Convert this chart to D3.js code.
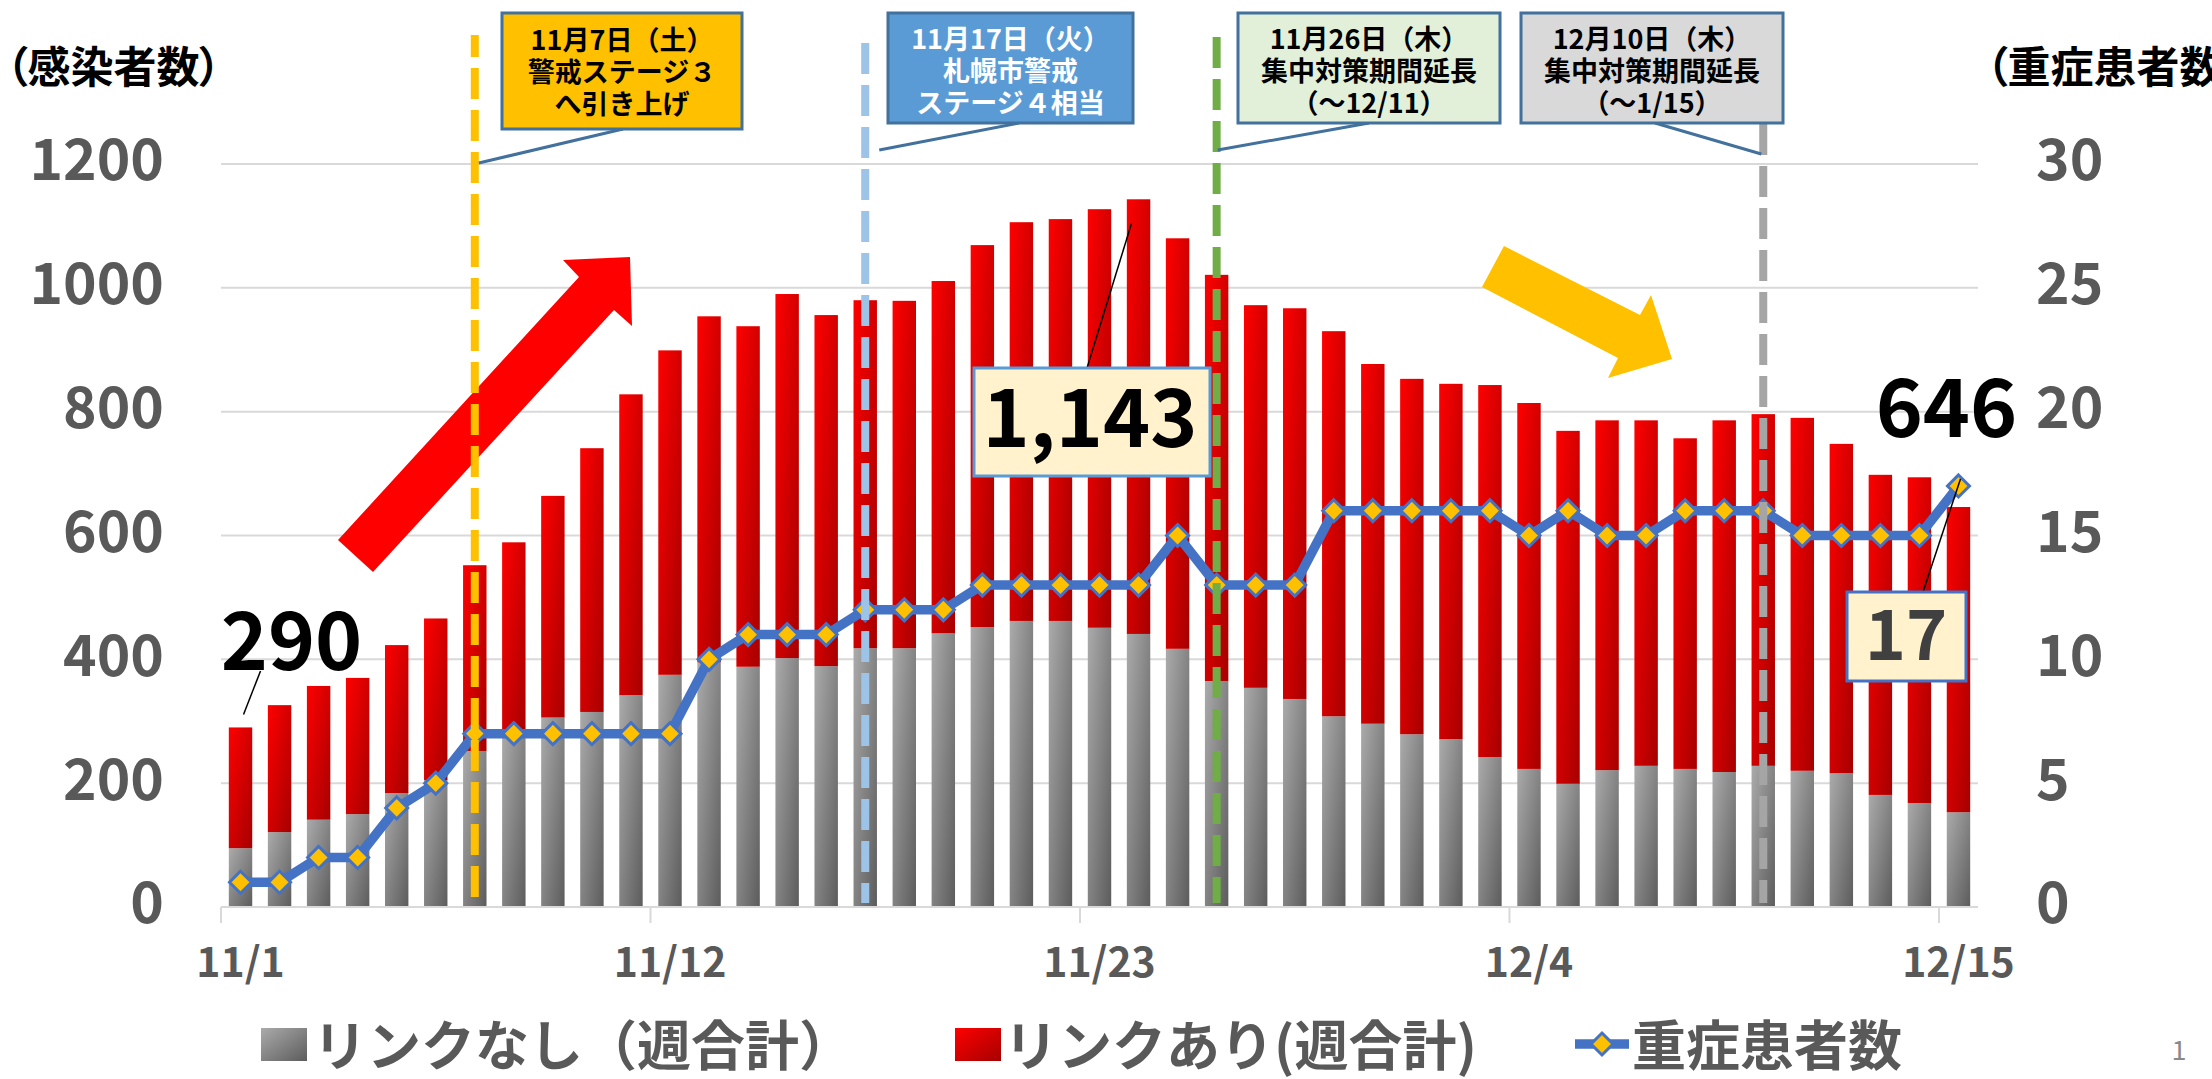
<!DOCTYPE html>
<html><head><meta charset="utf-8">
<script src="https://cdn.jsdelivr.net/npm/d3@7"></script>
<style>
html,body{margin:0;padding:0;background:#fff;overflow:hidden}
text{font-family:"Noto Sans CJK JP","Noto Sans",sans-serif}
.palt{font-feature-settings:"palt" 1}
</style>
</head><body>
<svg id="c" width="2212" height="1079"></svg>
<script>
// ---------------- DATA ----------------
const categories = ["11/1","11/2","11/3","11/4","11/5","11/6","11/7","11/8","11/9","11/10",
  "11/11","11/12","11/13","11/14","11/15","11/16","11/17","11/18","11/19","11/20",
  "11/21","11/22","11/23","11/24","11/25","11/26","11/27","11/28","11/29","11/30",
  "12/1","12/2","12/3","12/4","12/5","12/6","12/7","12/8","12/9","12/10",
  "12/11","12/12","12/13","12/14","12/15"];
const tickLabels = ["11/1","11/12","11/23","12/4","12/15"];
// リンクなし（週合計）
const unlinked = [95,121,141,150,184,205,252,280,306,315,
  342,375,395,388,402,389,418,418,442,452,
  462,462,451,441,417,365,354,336,308,296,
  279,271,242,223,199,221,228,223,218,228,
  220,216,181,168,153];
// リンクあり（週合計）
const linked = [195,205,216,220,239,261,300,309,358,426,
  486,524,559,550,588,567,562,561,569,617,
  644,649,676,702,663,656,618,631,622,581,
  574,574,601,591,570,565,558,534,568,568,
  570,532,517,526,493];
// 重症患者数
const severe = [1,1,2,2,4,5,7,7,7,7,
  7,7,10,11,11,11,12,12,12,13,
  13,13,13,13,15,13,13,13,16,16,
  16,16,16,15,16,15,15,16,16,16,
  15,15,15,15,17];
const leftTicks = [0,200,400,600,800,1000,1200];
const rightTicks = [0,5,10,15,20,25,30];
const seriesNames = ["リンクなし（週合計）","リンクあり(週合計)","重症患者数"];
const axisTitles = ["（感染者数）","（重症患者数）"];
const events = [
  {date:"11/7",  lines:["11月7日（土）","警戒ステージ３","へ引き上げ"]},
  {date:"11/17", lines:["11月17日（火）","札幌市警戒","ステージ４相当"]},
  {date:"11/26", lines:["11月26日（木）","集中対策期間延長","（～12/11）"]},
  {date:"12/10", lines:["12月10日（木）","集中対策期間延長","（～1/15）"]}
];
const highlights = [
  {date:"11/1",  text:"290"},
  {date:"11/24", text:"1,143"},
  {date:"12/15", text:"646"}
];
const severeLabel = {date:"12/15", text:"17"};

// ---------------- LAYOUT / STYLE ----------------
const M = {left:221, right:1978, top:164, bottom:907};
const eventStyle = [
  {line:"#FFC000", fill:"#FFC000", color:"#000", bx:502, bw:240, bh:116, y0:35, ax:623, dx:4,  dy:163},
  {line:"#9DC3E6", fill:"#5B9BD5", color:"#fff", bx:888, bw:245, bh:110, y0:43, ax:1019,dx:14, dy:150},
  {line:"#70AD47", fill:"#E2F0D9", color:"#000", bx:1238,bw:262, bh:110, y0:37, ax:1369,dx:1,  dy:150},
  {line:"#A5A5A5", fill:"#D9D9D9", color:"#000", bx:1521,bw:262, bh:110, y0:124,ax:1655,dx:-2, dy:154}
];

const svg = d3.select("#c");
const x = d3.scaleBand().domain(categories).range([M.left, M.right]).paddingInner(0.4).paddingOuter(0.2);
const yL = d3.scaleLinear().domain([0,1200]).range([M.bottom, M.top]);
const yR = d3.scaleLinear().domain([0,30]).range([M.bottom, M.top]);
const cx = d => x(d) + x.bandwidth()/2;
const idx = d => categories.indexOf(d);

// gradients
const defs = svg.append("defs");
function grad(id, c0, c1){
  const g = defs.append("linearGradient").attr("id", id)
    .attr("x1",0).attr("y1",0).attr("x2",1).attr("y2",1);
  g.append("stop").attr("offset",0).attr("stop-color",c0);
  g.append("stop").attr("offset",1).attr("stop-color",c1);
}
grad("gGray","#ABABAB","#5C5C5C");
grad("gRed","#FF0000","#A60000");

// gridlines
svg.append("g").selectAll("line").data(leftTicks.filter(t=>t>0)).join("line")
  .attr("x1",M.left).attr("x2",M.right).attr("y1",d=>yL(d)).attr("y2",d=>yL(d))
  .attr("stroke","#D9D9D9").attr("stroke-width",2);

// bars
const bars = svg.append("g");
bars.selectAll("rect.u").data(categories).join("rect").attr("class","u")
  .attr("x",d=>x(d)).attr("width",x.bandwidth())
  .attr("y",(d,i)=>yL(unlinked[i])).attr("height",(d,i)=>yL(0)-yL(unlinked[i]))
  .attr("fill","url(#gGray)");
bars.selectAll("rect.l").data(categories).join("rect").attr("class","l")
  .attr("x",d=>x(d)).attr("width",x.bandwidth())
  .attr("y",(d,i)=>yL(unlinked[i]+linked[i]))
  .attr("height",(d,i)=>yL(unlinked[i])-yL(unlinked[i]+linked[i]))
  .attr("fill","url(#gRed)");

// x axis line and ticks
svg.append("line").attr("x1",M.left).attr("x2",M.right).attr("y1",M.bottom).attr("y2",M.bottom)
  .attr("stroke","#D9D9D9").attr("stroke-width",2);
const half = x.step()*x.paddingInner()/2;
svg.append("g").selectAll("line").data(tickLabels).join("line")
  .attr("x1",d=>x(d)-half).attr("x2",d=>x(d)-half).attr("y1",M.bottom).attr("y2",M.bottom+16)
  .attr("stroke","#D9D9D9").attr("stroke-width",2);

// arrows (annotation shapes)
svg.append("polygon")
  .attr("points","338,540 579,277 563,260 630,257 632,326 614,310 373,572")
  .attr("fill","#FF0000");
svg.append("polygon")
  .attr("points","1504,246 1640,315 1651,295 1672,359 1608,378 1618,358 1482,287")
  .attr("fill","#FFC000");

// severe line
const line = d3.line().x((d,i)=>cx(categories[i])).y(d=>yR(d));
svg.append("path").datum(severe).attr("d",line).attr("fill","none")
  .attr("stroke","#4472C4").attr("stroke-width",9.5).attr("stroke-linejoin","round");
const dia = h => `M0,${-h}L${h},0L0,${h}L${-h},0Z`;
svg.append("g").selectAll("path").data(severe).join("path")
  .attr("d",dia(11))
  .attr("transform",(d,i)=>`translate(${cx(categories[i])},${yR(d)})`)
  .attr("fill","#FFC000").attr("stroke","#4472C4").attr("stroke-width",3);

// event dashed lines + callouts
events.forEach((ev,k)=>{
  const s = eventStyle[k];
  const lx = cx(ev.date);
  svg.append("line").attr("x1",lx).attr("x2",lx).attr("y1",s.y0).attr("y2",903)
    .attr("stroke",s.line).attr("stroke-width",8).attr("stroke-dasharray","31 11")
    .attr("stroke-dashoffset", k===0?9:0);
});
events.forEach((ev,k)=>{
  const s = eventStyle[k];
  const lx = cx(ev.date);
  svg.append("line").attr("x1",s.ax).attr("y1",13+s.bh).attr("x2",lx+s.dx).attr("y2",s.dy)
    .attr("stroke","#41719C").attr("stroke-width",3);
  svg.append("rect").attr("x",s.bx).attr("y",13).attr("width",s.bw).attr("height",s.bh)
    .attr("fill",s.fill).attr("stroke","#41719C").attr("stroke-width",3);
  ev.lines.forEach((t,j)=>{
    svg.append("text").attr("x",s.bx+s.bw/2).attr("y",49+32*j+(k===0?1:0))
      .attr("text-anchor","middle").attr("font-size",27).attr("font-weight",700)
      .attr("fill",s.color).text(t);
  });
});

// data labels
const hl = highlights;
// 290
(function(){
  const d = hl[0], i = idx(d.date), bx = cx(d.date);
  svg.append("line").attr("x1",bx+3).attr("y1",yL(unlinked[i]+linked[i])-13)
    .attr("x2",bx+20).attr("y2",671).attr("stroke","#000").attr("stroke-width",1.5);
  svg.append("text").attr("x",bx+51).attr("y",670).attr("text-anchor","middle")
    .attr("font-size",80).attr("font-weight",700).attr("fill","#000").text(d.text);
})();
// 1,143
(function(){
  const d = hl[1], i = idx(d.date), bx = cx(d.date);
  svg.append("line").attr("x1",bx-7).attr("y1",yL(unlinked[i]+linked[i])+24)
    .attr("x2",1087).attr("y2",368).attr("stroke","#000").attr("stroke-width",1.5);
  svg.append("rect").attr("x",974).attr("y",368).attr("width",236).attr("height",108)
    .attr("fill","#FFF2CC").attr("stroke","#5B9BD5").attr("stroke-width",3);
  svg.append("text").attr("x",1090).attr("y",447).attr("text-anchor","middle")
    .attr("font-size",80).attr("font-weight",700).attr("fill","#000").text(d.text);
})();
// 646
(function(){
  const d = hl[2];
  svg.append("text").attr("x",cx(d.date)-12).attr("y",437).attr("text-anchor","middle")
    .attr("font-size",80).attr("font-weight",700).attr("fill","#000").text(d.text);
})();
// 17
(function(){
  const d = severeLabel, i = idx(d.date), px = cx(d.date), py = yR(severe[i]);
  svg.append("line").attr("x1",px+2).attr("y1",py-7)
    .attr("x2",1923).attr("y2",592).attr("stroke","#000").attr("stroke-width",1.5);
  svg.append("rect").attr("x",1847).attr("y",592).attr("width",119).attr("height",89)
    .attr("fill","#FFF2CC").attr("stroke","#4472C4").attr("stroke-width",3);
  svg.append("text").attr("x",1906).attr("y",660).attr("text-anchor","middle")
    .attr("font-size",70).attr("font-weight",700).attr("fill","#404040").text(d.text);
})();

// axes
const axL = svg.append("g").attr("transform",`translate(${M.left},0)`)
  .call(d3.axisLeft(yL).tickValues(leftTicks).tickSize(0).tickPadding(57).tickFormat(d3.format("d")));
const axR = svg.append("g").attr("transform",`translate(${M.right},0)`)
  .call(d3.axisRight(yR).tickValues(rightTicks).tickSize(0).tickPadding(58).tickFormat(d3.format("d")));
const axB = svg.append("g").attr("transform",`translate(0,${M.bottom})`)
  .call(d3.axisBottom(x).tickValues(tickLabels).tickSize(0).tickPadding(41));
[axL,axR,axB].forEach(a=>{
  a.select(".domain").remove();
  a.selectAll("text").attr("fill","#595959").attr("font-weight",700)
    .style("font-family",'"Noto Sans CJK JP","Noto Sans",sans-serif');
});
axL.selectAll("text").attr("font-size",57).attr("dy","0.28em");
axR.selectAll("text").attr("font-size",57).attr("dy","0.28em");
axB.selectAll("text").attr("font-size",41);

// axis titles
svg.append("text").attr("class","palt").attr("x",6).attr("y",83).attr("text-anchor","start")
  .attr("font-size",43).attr("font-weight",700).attr("fill","#000").text(axisTitles[0]);
svg.append("text").attr("class","palt").attr("x",1986).attr("y",83).attr("text-anchor","start")
  .attr("font-size",43).attr("font-weight",700).attr("fill","#000").text(axisTitles[1]);

// legend
const lg = svg.append("g");
lg.append("rect").attr("x",261).attr("y",1028).attr("width",46).attr("height",33).attr("fill","url(#gGray)");
lg.append("text").attr("x",313).attr("y",1066).attr("font-size",54).attr("font-weight",700)
  .attr("fill","#595959").text(seriesNames[0]);
lg.append("rect").attr("x",955).attr("y",1028).attr("width",46).attr("height",33).attr("fill","url(#gRed)");
lg.append("text").attr("x",1004).attr("y",1066).attr("font-size",54).attr("font-weight",700)
  .attr("fill","#595959").text(seriesNames[1]);
lg.append("line").attr("x1",1575).attr("x2",1629).attr("y1",1044).attr("y2",1044)
  .attr("stroke","#4472C4").attr("stroke-width",9.5);
lg.append("path").attr("d",dia(11)).attr("transform","translate(1602,1044)")
  .attr("fill","#FFC000").attr("stroke","#4472C4").attr("stroke-width",3);
lg.append("text").attr("x",1632).attr("y",1066).attr("font-size",54).attr("font-weight",700)
  .attr("fill","#595959").text(seriesNames[2]);

// page number
svg.append("text").attr("x",2179).attr("y",1060).attr("text-anchor","middle")
  .attr("font-size",27).attr("fill","#898989").text("1");
</script>
</body></html>
